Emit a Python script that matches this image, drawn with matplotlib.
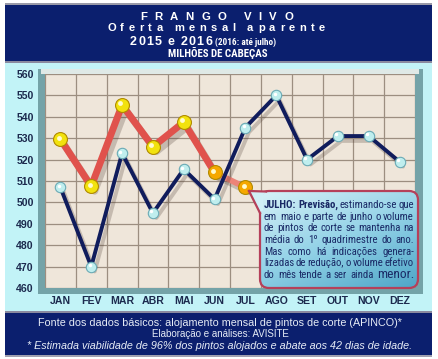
import numpy as np
import matplotlib
matplotlib.use('Agg')
import matplotlib.pyplot as plt
from matplotlib.patches import Rectangle, FancyBboxPatch, Polygon
from matplotlib.colors import LinearSegmentedColormap
from matplotlib import patheffects as pe
from matplotlib.transforms import offset_copy
from matplotlib import font_manager
from matplotlib.font_manager import FontProperties

# ---------------------------------------------------------
# Data (milhões de cabeças)
# ---------------------------------------------------------
months = ['JAN', 'FEV', 'MAR', 'ABR', 'MAI', 'JUN', 'JUL',
          'AGO', 'SET', 'OUT', 'NOV', 'DEZ']
oferta_2015 = [507, 470, 523, 495, 515.5, 501.5, 535, 550, 520, 531, 531, 519]
oferta_2016 = [529.5, 507.5, 545.5, 526, 537.5, 514, 507]
y_ticks = list(range(460, 561, 10))

# ---------------------------------------------------------
# Fonts: look for a condensed face for the callout / subtitle
# ---------------------------------------------------------
SANS = 'Liberation Sans'


def narrow_font(weight='normal'):
    for fam in ['Liberation Sans Narrow', 'Arial Narrow', 'Roboto Condensed',
                'Open Sans Condensed']:
        try:
            font_manager.findfont(FontProperties(family=fam, weight=weight),
                                  fallback_to_default=False)
            return FontProperties(family=fam, weight=weight)
        except Exception:
            pass
    p = font_manager.findfont(FontProperties(family='DejaVu Sans', stretch='condensed',
                                             weight=weight))
    if 'Condensed' in p:
        return FontProperties(fname=p)
    return FontProperties(family=SANS, weight=weight)


NARROW = narrow_font()
NARROW_B = narrow_font('bold')

NAVY = '#0b1f6e'
CYAN = '#c2f3f7'
TXT = '#1c2a4e'

W, H = 438, 359
fig = plt.figure(figsize=(W / 100, H / 100), dpi=100, facecolor='white')

# background axes in pixel coordinates
bg = fig.add_axes([0, 0, 1, 1], zorder=0)
bg.set_xlim(0, W)
bg.set_ylim(H, 0)
bg.axis('off')

bg.add_patch(Rectangle((5, 3), 427, 2, fc='#9a9aa8', ec='none'))
bg.add_patch(Rectangle((5, 5), 427, 56, fc=NAVY, ec='none'))
bg.add_patch(Rectangle((5, 61), 427, 2, fc='#8a8aa0', ec='none'))
bg.add_patch(Rectangle((5, 63), 427, 250, fc=CYAN, ec='none'))
bg.add_patch(Rectangle((5, 311), 427, 2, fc='#8a8aa0', ec='none'))
bg.add_patch(Rectangle((5, 313), 427, 42, fc=NAVY, ec='none'))
bg.add_patch(Rectangle((5, 355), 427, 2, fc='#a0a0b0', ec='none'))

# bevel frame round the plot area
bg.add_patch(Rectangle((38, 69), 385, 225, fc='#74a3a8', ec='none'))
bg.add_patch(Rectangle((41, 69), 378, 5, fc='#dfe9e6', ec='none'))

# ---------------------------------------------------------
# Main chart
# ---------------------------------------------------------
ax = fig.add_axes([45 / W, 1 - 288 / H, 370 / W, 214 / H], zorder=1)
ax.set_facecolor('#efe6da')
ax.set_xlim(-0.5, 11.5)
ax.set_ylim(460, 560)
for s in ax.spines.values():
    s.set_visible(False)

ax.set_xticks(range(12))
ax.set_xticklabels(months)
ax.set_xticks(np.arange(-0.5, 12, 1), minor=True)
ax.set_yticks(y_ticks)
ax.tick_params(axis='both', which='both', length=0)
ax.tick_params(axis='x', pad=6)
ax.tick_params(axis='y', pad=8)
for lab in ax.get_xticklabels() + ax.get_yticklabels():
    lab.set_fontfamily(SANS)
    lab.set_fontweight('bold')
    lab.set_fontsize(7.6)
    lab.set_color(TXT)
ax.grid(True, which='minor', axis='x', color='#9c8e80', lw=0.9)
ax.grid(True, which='major', axis='y', color='#9c8e80', lw=0.9)
ax.set_axisbelow(True)

x15 = np.arange(len(oferta_2015))
x16 = np.arange(len(oferta_2016))
shadow = [pe.SimpleLineShadow(offset=(2.5, -3.5), shadow_color='#4a3a30', alpha=0.25),
          pe.Normal()]

ax.plot(x16[:6], oferta_2016[:6], color='#e0524c', lw=5, solid_capstyle='round',
        zorder=2, path_effects=shadow)
ax.plot(x16[5:], oferta_2016[5:], color='#ec8378', lw=4.2, solid_capstyle='round',
        zorder=2, path_effects=shadow)
ax.plot(x15, oferta_2015, color='#101c5c', lw=2.8, solid_capstyle='round',
        zorder=3, path_effects=shadow)

hl = offset_copy(ax.transData, fig=fig, x=-1.2, y=1.2, units='points')
ax.plot(x15, oferta_2015, 'o', ms=7.5, mfc='#bfeeee', mec='#6aaab5', mew=0.8, zorder=4)
ax.plot(x15, oferta_2015, 'o', ms=2.5, mfc='white', mec='none', zorder=5, transform=hl)

cols16 = ['#f2e20e'] * 5 + ['#f6a800'] * 2
for xi, yi, c in zip(x16, oferta_2016, cols16):
    ax.plot(xi, yi, 'o', ms=10, mfc=c, mec='#b08a00', mew=0.8, zorder=4)
    ax.plot(xi, yi, 'o', ms=3.5, mfc='#fffbd0', mec='none', zorder=5, transform=hl)

# ---------------------------------------------------------
# Overlay: titles, callout, footer
# ---------------------------------------------------------
ov = fig.add_axes([0, 0, 1, 1], zorder=3)
ov.set_facecolor('none')
ov.axis('off')
ov.set_xlim(0, W)
ov.set_ylim(H, 0)

renderer = fig.canvas.get_renderer()


def width_of(t):
    return t.get_window_extent(renderer).width


def fit(s, x, y, width, ha='center', **kw):
    # text whose font size is chosen so that it spans the given pixel width
    t = ov.text(x, y, s, ha=ha, va='baseline', **kw)
    t.set_fontsize(t.get_fontsize() * width / width_of(t))
    return t


def spaced(s, x0, y, width, **kw):
    # letter-spaced text fitted to a given pixel width, starting at x0
    ts, ws = [], []
    for ch in s:
        if ch == ' ':
            ts.append(None)
            ws.append(kw.get('size', 8) * 0.35)
            continue
        t = ov.text(0, y, ch, ha='left', va='baseline', **kw)
        ts.append(t)
        ws.append(width_of(t))
    gap = (width - sum(ws)) / (len(s) - 1)
    x = x0
    for t, w in zip(ts, ws):
        if t is not None:
            t.set_x(x)
        x += w + gap


spaced('FRANGO VIVO', 140, 20, 153, size=8.2, weight='bold', color='white', family=SANS)
spaced('Oferta mensal aparente', 107, 31, 218, size=8.0, weight='bold', color='white',
       family=SANS)
spaced('2015 e 2016', 130, 45, 82, size=9.0, weight='bold', color='white', family=SANS)
t = ov.text(215, 45, '(2016: até julho)', ha='left', va='baseline', color='white',
            fontproperties=NARROW_B)
t.set_fontsize(6.6)
fit('MILHÕES DE CABEÇAS', 218, 57, 99, size=7, color='white', fontproperties=NARROW_B)

# callout
box = FancyBboxPatch((260, 191), 158, 97, boxstyle='round,pad=0,rounding_size=9',
                     fc='none', ec='#b5405a', lw=1.6, zorder=5)
ov.add_patch(box)
gy, gx = np.mgrid[0:1:100j, 0:1:100j]
cmap = LinearSegmentedColormap.from_list('callout', ['#d6f1f8', '#93d2e7', '#4ea6c8'])
im = ov.imshow(0.6 * gy + 0.4 * gx, extent=(260, 418, 288, 191), cmap=cmap,
               origin='upper', aspect='auto', zorder=4)
im.set_clip_path(box)
ov.add_patch(Polygon([(249, 191), (267, 191.5), (263, 195), (263, 210), (260, 213)],
                     closed=True, fc='#d0eff7', ec='none', zorder=6))
ov.plot([249, 266], [191, 191.5], color='#b5405a', lw=1.6, zorder=7)
ov.plot([249, 260], [191, 213], color='#b5405a', lw=1.6, zorder=7)
ov.set_xlim(0, W)
ov.set_ylim(H, 0)

CT = '#1a2a66'
callout_lines = [
    [('JULHO:', 'b'), ('Previsão,', 'b'), ('estimando-se', 'n'), ('que', 'n')],
    [(w, 'n') for w in 'em maio e parte de junho o volume'.split()],
    [(w, 'n') for w in 'de pintos de corte se mantenha na'.split()],
    [(w, 'n') for w in 'média do 1º quadrimestre do ano.'.split()],
    [(w, 'n') for w in 'Mas como há indicações genera-'.split()],
    [(w, 'n') for w in 'lizadas de redução, o volume efetivo'.split()],
    [(w, 'n') for w in 'do mês tende a ser ainda'.split()] + [('menor.', 'L')],
]
X0, X1 = 264, 414
base = 8.0
scale = {'n': 1.0, 'b': 1.0, 'L': 1.25}

# pick a size that lets every line fit with a small word space
need = 0
for words in callout_lines:
    ws = []
    for w, st in words:
        t = ov.text(0, 0, w, fontproperties=NARROW_B if st == 'b' else NARROW)
        t.set_fontsize(base * scale[st])
        ws.append(width_of(t))
        t.remove()
    need = max(need, (sum(ws) + 0.14 * base * 1.389 * (len(ws) - 1)) / (X1 - X0))
size = base / max(need, 1.0)

for i, words in enumerate(callout_lines):
    y = 208 + i * 11.7
    ts = []
    for w, st in words:
        t = ov.text(0, y, w, ha='left', va='baseline', color=CT, zorder=8,
                    fontproperties=NARROW_B if st == 'b' else NARROW)
        t.set_fontsize(size * scale[st])
        ts.append(t)
    ws = [width_of(t) for t in ts]
    gap = (X1 - X0 - sum(ws)) / (len(ws) - 1)
    x = X0
    for t, w in zip(ts, ws):
        t.set_x(x)
        x += w + gap

# footer
ft = dict(color='#e6ecf6', family=SANS, size=7.8)
fit('Fonte dos dados básicos: alojamento mensal de pintos de corte (APINCO)*',
    220, 326, 365, **ft)
fit('Elaboração e análises: AVISITE', 220, 337, 140, **ft)
fit('* Estimada viabilidade de 96% dos pintos alojados e abate aos 42 dias de idade.',
    220, 349, 385, style='italic', **ft)

fig.savefig('out.png', dpi=100, facecolor='white')
